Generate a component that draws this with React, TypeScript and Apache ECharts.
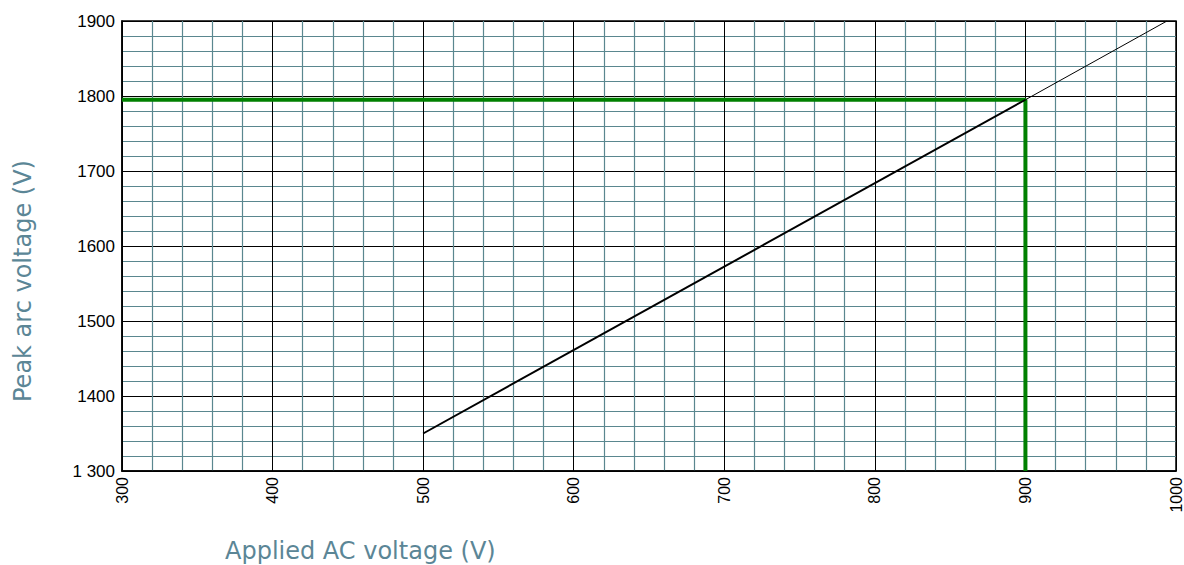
import React, { useEffect, useRef } from "react";
import * as echarts from "echarts";

const xRange = [300, 1000];
const yRange = [1300, 1900];
const measuredLine: [number, number][] = [
  [500, 1350],
  [900, 1795],
];
const extrapolatedLine: [number, number][] = [
  [900, 1795],
  [994, 1900],
];
const readingGuide: [number, number][] = [
  [300, 1795],
  [900, 1795],
  [900, 1300],
];
const xTitle = "Applied AC voltage (V)";
const yTitle = "Peak arc voltage (V)";

const titleColor = "#5b8696";
const minorColor = "#5a878f";

export default function App() {
  const ref = useRef<HTMLDivElement>(null);
  useEffect(() => {
    if (!ref.current) return;
    const chart = echarts.init(ref.current, undefined, { renderer: "svg" });
    chart.setOption({
      animation: false,
      backgroundColor: "#ffffff",
      grid: {
        left: 122,
        top: 21,
        right: 7,
        bottom: 94,
        show: true,
        borderColor: "#000",
        borderWidth: 1.5,
        backgroundColor: "transparent",
      },
      xAxis: {
        type: "value",
        min: xRange[0],
        max: xRange[1],
        interval: 100,
        axisLine: { show: true, lineStyle: { color: "#000", width: 1.5 } },
        axisTick: { show: false },
        axisLabel: {
          rotate: 90,
          color: "#000",
          fontFamily: "Liberation Sans, Arial, sans-serif",
          fontSize: 16,
          margin: 6,
          formatter: (v: number) => String(v),
        },
        splitLine: { show: true, lineStyle: { color: "#000", width: 1 } },
        minorTick: { show: false, splitNumber: 5 },
        minorSplitLine: { show: true, lineStyle: { color: minorColor, width: 1.2 } },
      },
      yAxis: {
        type: "value",
        min: yRange[0],
        max: yRange[1],
        interval: 100,
        axisLine: { show: true, lineStyle: { color: "#000", width: 1.5 } },
        axisTick: { show: false },
        axisLabel: {
          color: "#000",
          fontFamily: "Liberation Sans, Arial, sans-serif",
          fontSize: 17,
          margin: 7,
          formatter: (v: number) => (v === 1300 ? "1 300" : String(v)),
        },
        splitLine: { show: true, lineStyle: { color: "#000", width: 1 } },
        minorTick: { show: false, splitNumber: 5 },
        minorSplitLine: { show: true, lineStyle: { color: minorColor, width: 1.2 } },
      },
      series: [
        {
          type: "line",
          data: readingGuide,
          symbol: "none",
          lineStyle: { color: "#008000", width: 4 },
          z: 3,
        },
        {
          type: "line",
          data: measuredLine,
          symbol: "none",
          lineStyle: { color: "#000", width: 2 },
          z: 4,
        },
        {
          type: "line",
          data: extrapolatedLine,
          symbol: "none",
          lineStyle: { color: "#000", width: 1 },
          z: 4,
        },
      ],
      graphic: [
        {
          type: "text",
          x: 225,
          y: 551,
          style: {
            text: xTitle,
            fill: titleColor,
            font: "24px 'DejaVu Sans', sans-serif",
            textVerticalAlign: "middle",
          },
        },
        {
          type: "text",
          x: 23,
          y: 402,
          rotation: Math.PI / 2,
          style: {
            text: yTitle,
            fill: titleColor,
            font: "24px 'DejaVu Sans', sans-serif",
            textVerticalAlign: "middle",
          },
        },
      ],
    });
    return () => chart.dispose();
  }, []);
  return (
    <div
      ref={ref}
      style={{ position: "fixed", left: 0, top: 0, width: 1184, height: 565, background: "#fff" }}
    />
  );
}
